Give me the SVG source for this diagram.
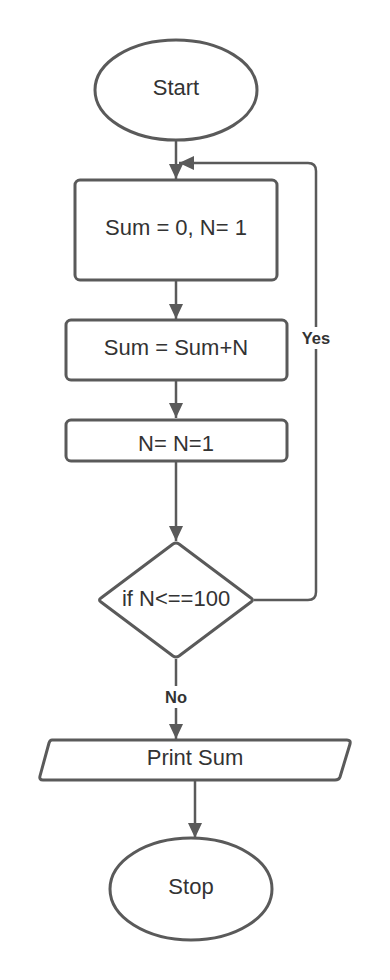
<svg xmlns="http://www.w3.org/2000/svg" width="390" height="980" viewBox="0 0 390 980">
  <style>
    .shape { fill: #ffffff; stroke: #5a5a5a; stroke-width: 3; stroke-linejoin: round; }
    .edge { fill: none; stroke: #5a5a5a; stroke-width: 2.5; }
    .label { font-family: "Liberation Sans", Arial, sans-serif; font-size: 22px; fill: #333333; text-anchor: middle; dominant-baseline: central; }
    .tag { font-family: "Liberation Sans", Arial, sans-serif; font-size: 16.5px; font-weight: bold; fill: #333333; text-anchor: middle; dominant-baseline: central; }
  </style>
  <defs>
    <marker id="arrow" markerUnits="userSpaceOnUse" markerWidth="16" markerHeight="14" refX="15" refY="7" orient="auto">
      <path d="M0,0 L15,7 L0,14 Z" fill="#5a5a5a"/>
    </marker>
  </defs>
  <rect width="390" height="980" fill="#ffffff"/>

  <g id="connectors">
    <line class="edge" x1="176" y1="141" x2="176" y2="179" marker-end="url(#arrow)"/>
    <path class="edge" d="M254,600 H308 Q316,600 316,592 V171 Q316,163 308,163 H179" marker-end="url(#arrow)"/>
    <line class="edge" x1="176" y1="280" x2="176" y2="319" marker-end="url(#arrow)"/>
    <line class="edge" x1="176" y1="380" x2="176" y2="418" marker-end="url(#arrow)"/>
    <line class="edge" x1="176" y1="461" x2="176" y2="541" marker-end="url(#arrow)"/>
    <line class="edge" x1="176" y1="659" x2="176" y2="739" marker-end="url(#arrow)"/>
    <line class="edge" x1="195" y1="780" x2="195" y2="838" marker-end="url(#arrow)"/>
    <rect x="298" y="327" width="36" height="22" fill="#ffffff"/>
    <text class="tag" x="316" y="338">Yes</text>
    <rect x="160" y="686" width="32" height="22" fill="#ffffff"/>
    <text class="tag" x="176" y="697">No</text>
  </g>

  <g id="start">
    <ellipse class="shape" cx="176" cy="90" rx="81" ry="50"/>
    <text class="label" x="176" y="87">Start</text>
  </g>

  <g id="init">
    <rect class="shape" x="75" y="180" width="202" height="100" rx="5"/>
    <text class="label" x="176" y="227">Sum = 0, N= 1</text>
  </g>

  <g id="accumulate">
    <rect class="shape" x="66" y="320" width="221" height="60" rx="5"/>
    <text class="label" x="176" y="347">Sum = Sum+N</text>
  </g>

  <g id="increment">
    <rect class="shape" x="66" y="420" width="221" height="41" rx="5"/>
    <text class="label" x="176" y="443">N= N=1</text>
  </g>

  <g id="check">
    <path class="shape" d="M179,544 L251,598 Q254,600 251,602 L179,656 Q176,658 173,656 L101,602 Q98,600 101,598 L173,544 Q176,542 179,544 Z"/>
    <text class="label" x="176" y="598">if N&lt;==100</text>
  </g>

  <g id="print">
    <path class="shape" d="M52,740 H347 Q351,740 350,744 L340,777 Q339,780 335,780 H43 Q39,780 40,776 L49,743 Q50,740 52,740 Z"/>
    <text class="label" x="195" y="757">Print Sum</text>
  </g>

  <g id="stop">
    <ellipse class="shape" cx="191" cy="889" rx="81" ry="51"/>
    <text class="label" x="191" y="886">Stop</text>
  </g>
</svg>
